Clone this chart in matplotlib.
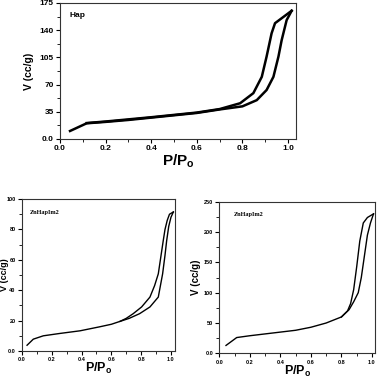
# isotherm panels: Hap on top, two ZnHap samples below

import numpy as np
import matplotlib
matplotlib.use("Agg")
import matplotlib.pyplot as plt
from matplotlib.ticker import MultipleLocator

plt.rcParams['font.family'] = ['Liberation Sans', 'DejaVu Sans']
plt.rcParams['mathtext.fontset'] = 'custom'
plt.rcParams['mathtext.rm'] = 'Liberation Sans:bold'
plt.rcParams['mathtext.bf'] = 'Liberation Sans:bold'

# --- Hap
hap_ads_x = [0.044, 0.117, 0.2, 0.3, 0.4, 0.5, 0.6, 0.7, 0.8, 0.863, 0.906, 0.936, 0.958, 0.972, 0.994, 1.016]
hap_ads_v = [10.3, 20.2, 22.0, 24.5, 27.5, 30.5, 33.5, 38.0, 42.0, 50.0, 63.0, 80.0, 106.0, 127.0, 153.0, 165.0]
hap_des_x = [1.016, 0.943, 0.928, 0.906, 0.885, 0.848, 0.79, 0.7, 0.6, 0.4, 0.2, 0.117]
hap_des_v = [165.0, 149.0, 136.0, 106.0, 80.0, 59.0, 46.0, 38.5, 34.0, 28.0, 22.5, 20.5]

# --- ZnHapIm2 (left)
zl_ads_x = [0.034, 0.076, 0.143, 0.25, 0.39, 0.52, 0.6, 0.658, 0.72, 0.79, 0.859, 0.915, 0.944, 0.96, 0.971, 0.985, 1.0, 1.016]
zl_ads_v = [3.8, 7.8, 10.0, 11.5, 13.3, 15.9, 17.6, 19.5, 21.5, 24.6, 29.0, 35.5, 50.8, 63.0, 72.5, 82.0, 88.0, 91.5]
zl_des_x = [1.016, 0.99, 0.975, 0.96, 0.948, 0.932, 0.915, 0.89, 0.859, 0.803, 0.747, 0.7, 0.658]
zl_des_v = [91.5, 90.0, 86.0, 80.0, 72.5, 62.0, 50.8, 43.0, 35.5, 29.0, 24.6, 21.5, 19.5]

# --- ZnHapIm2 (right)
zr_ads_x = [0.044, 0.114, 0.2, 0.3, 0.4, 0.5, 0.6, 0.7, 0.8, 0.85, 0.88, 0.91, 0.93, 0.95, 0.97, 0.99, 1.01]
zr_ads_v = [13.0, 26.0, 29.0, 32.0, 35.0, 38.0, 43.0, 50.0, 60.0, 72.0, 85.0, 100.0, 125.0, 160.0, 195.0, 215.0, 230.0]
zr_des_x = [1.01, 0.97, 0.943, 0.92, 0.9, 0.88, 0.86, 0.84, 0.8]
zr_des_v = [230.0, 224.0, 215.0, 185.0, 143.0, 105.0, 82.0, 70.0, 60.0]


def panel(ax, ads_x, ads_v, des_x, des_v, xmax, ymax, ystep, ylabels, name,
          name_xy, lw, tfs, lfs, xlfs, ylab_x, xlab_y, serif_name=False):
    ax.plot(ads_x, ads_v, color='k', lw=lw, solid_joinstyle='round')
    ax.plot(des_x, des_v, color='k', lw=lw, solid_joinstyle='round')
    ax.set_xlim(0, xmax)
    ax.set_ylim(0, ymax)
    ax.set_xticks(np.arange(0, 1.01, 0.2), labels=["0.0", "0.2", "0.4", "0.6", "0.8", "1.0"])
    ax.xaxis.set_minor_locator(MultipleLocator(0.1))
    ax.set_yticks(np.arange(0, ymax + 0.1, ystep), labels=ylabels)
    ax.yaxis.set_minor_locator(MultipleLocator(ystep / 2))
    ax.tick_params(which='major', direction='out', length=3, width=0.8, pad=1.5, labelsize=tfs)
    ax.tick_params(which='minor', direction='out', length=2, width=0.6)
    for lab in ax.get_xticklabels() + ax.get_yticklabels():
        lab.set_fontweight('bold')
    for s in ax.spines.values():
        s.set_linewidth(0.8)
        s.set_color('#333333')
    ax.set_ylabel("V (cc/g)", fontsize=lfs, fontweight='bold')
    ax.yaxis.set_label_coords(ylab_x, 0.5)
    ax.set_xlabel(r"P/P$_\mathregular{o}$", fontsize=xlfs, fontweight='bold')
    ax.xaxis.set_label_coords(0.5, xlab_y)
    if serif_name:
        ax.text(name_xy[0], name_xy[1], name, transform=ax.transAxes, fontsize=4.5,
                fontweight='bold', family='Liberation Serif', va='center')
    else:
        ax.text(name_xy[0], name_xy[1], name, transform=ax.transAxes, fontsize=6,
                fontweight='bold', va='center')


fig = plt.figure(figsize=(3.79, 3.78), dpi=100)

ax1 = fig.add_axes([0.1583, 0.6323, 0.6227, 0.3598])
panel(ax1, hap_ads_x, hap_ads_v, hap_des_x, hap_des_v, 1.035, 175, 35,
      ["0.0", "35", "70", "105", "140", "175"], "Hap", (0.04, 0.91),
      1.8, 6, 7.5, 11, -0.11, -0.1)

ax2 = fig.add_axes([0.058, 0.0714, 0.4037, 0.402])
panel(ax2, zl_ads_x, zl_ads_v, zl_des_x, zl_des_v, 1.027, 100, 20,
      ["0.0", "20", "40", "60", "80", "100"], "ZnHapIm2", (0.05, 0.91),
      1.0, 4, 6.5, 9, -0.083, -0.068, serif_name=True)

ax3 = fig.add_axes([0.5786, 0.0653, 0.4116, 0.401])
panel(ax3, zr_ads_x, zr_ads_v, zr_des_x, zr_des_v, 1.0216, 250, 50,
      ["0.0", "50", "100", "150", "200", "250"], "ZnHapIm2", (0.09, 0.915),
      1.0, 4, 7, 9, -0.115, -0.069, serif_name=True)

fig.savefig("out.png", dpi=100)
